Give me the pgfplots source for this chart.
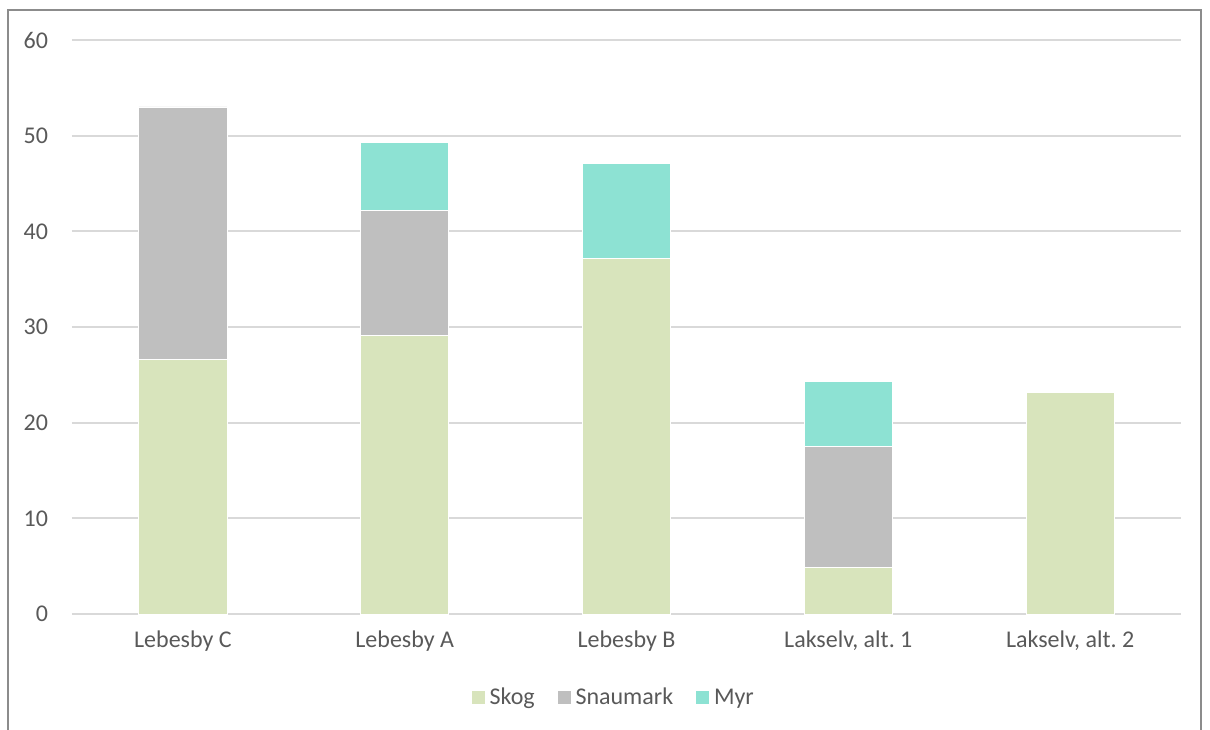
\documentclass[border=0pt]{standalone}
\usepackage{pgfplots}
\pgfplotsset{compat=1.18}
\usepackage{fontspec}
\setmainfont{Carlito}
\definecolor{skog}{HTML}{D8E4BC}
\definecolor{snau}{HTML}{BFBFBF}
\definecolor{myr}{HTML}{8DE2D3}
\definecolor{txt}{HTML}{595959}
\definecolor{gridc}{HTML}{D9D9D9}
\definecolor{framec}{HTML}{8C8C8C}
\begin{document}
\begin{tikzpicture}
\useasboundingbox (0,0) rectangle (605pt,364.5pt);
\draw[framec, line width=0.75pt] (4pt,-1pt) -- (4pt,359.5pt) -- (600.5pt,359.5pt) -- (600.5pt,-1pt);
\begin{axis}[
  at={(36pt,57.5pt)}, anchor=south west,
  scale only axis, width=554.5pt, height=287pt,
  ybar stacked, bar width=44pt,
  xmin=-0.5, xmax=4.5, ymin=0, ymax=60,
  xtick={0,1,2,3,4},
  xticklabels={Lebesby C, Lebesby A, Lebesby B, {Lakselv, alt.\ 1}, {Lakselv, alt.\ 2}},
  ytick={0,10,...,60},
  axis line style={draw=none},
  major tick length=0pt,
  ymajorgrids, grid style={gridc, line width=1pt},
  tick label style={font=\fontsize{12}{14}\selectfont, text=txt},
  yticklabel style={xshift=-8.5pt},
  xticklabel style={yshift=-5pt},
  /pgf/number format/assume math mode=true,
  legend columns=3,
  legend style={at={(0.489,-0.146)}, anchor=center, draw=none, fill=none,
    font=\fontsize{12}{14}\selectfont, text=txt,
    /tikz/every even column/.append style={column sep=9pt}},
  legend image code/.code={\fill[#1] (0pt,-3.5pt) rectangle (7pt,3.5pt);},
  clip=false,
]
\addplot[fill=skog, draw=white, line width=0.4pt] coordinates {(0,26.6) (1,29.15) (2,37.2) (3,4.9) (4,23.2)};
\addplot[fill=snau, draw=white, line width=0.4pt] coordinates {(0,26.4) (1,13.05) (2,0) (3,12.65) (4,0)};
\addplot[fill=myr, draw=white, line width=0.4pt] coordinates {(0,0) (1,7.1) (2,9.9) (3,6.8) (4,0)};
\legend{Skog, Snaumark, Myr}
\end{axis}
\end{tikzpicture}
\end{document}
